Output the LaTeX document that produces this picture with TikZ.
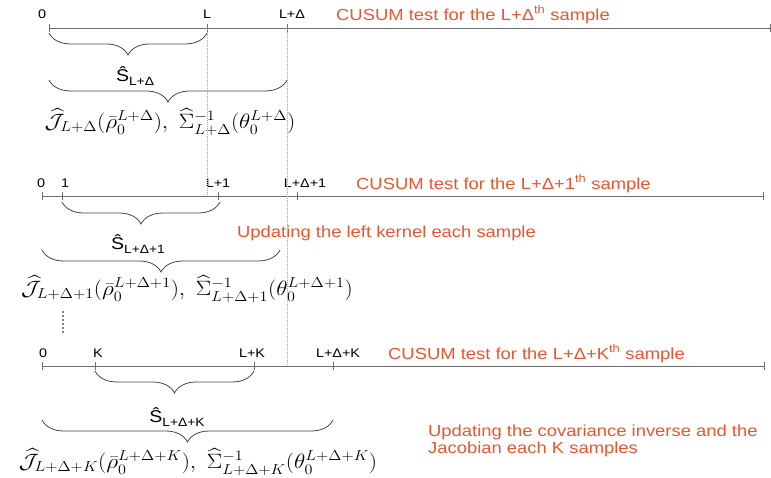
\documentclass[tikz,border=0pt]{standalone}
\usepackage{fontspec}
\usepackage{amsmath}
\usetikzlibrary{decorations.pathreplacing}
\newfontfamily\labfont[FakeStretch=1.15]{Liberation Sans}
\definecolor{redtxt}{RGB}{236,84,44}
\definecolor{axisgray}{RGB}{110,110,110}
\definecolor{bracegray}{RGB}{70,70,70}
\tikzset{
  axisline/.style={draw=axisgray, line width=0.9pt},
  tickmark/.style={draw=axisgray, line width=0.9pt},
  ticklabel/.style={inner sep=0pt, font=\labfont\fontsize{12.5}{14}\selectfont},
  redlabel/.style={inner sep=0pt, anchor=west, text=redtxt, font=\labfont\fontsize{16}{18}\selectfont},
  slabel/.style={inner sep=0pt, font=\labfont\fontsize{17}{19}\selectfont},
  formula/.style={inner sep=0pt, font=\fontsize{19.5}{22}\selectfont},
  bracedraw/.style={draw=bracegray, line width=0.8pt, decorate, decoration={brace, mirror, amplitude=22pt}},
  guideline/.style={draw=gray!70, line width=0.6pt, dash pattern=on 1pt off 1pt},
}
\newcommand{\Shat}[1]{Ŝ\raisebox{-0.45ex}{\fontsize{12}{13}\selectfont #1}}
\newcommand{\fstretch}[1]{\scalebox{1.12}[1]{#1}}
\begin{document}
\begin{tikzpicture}[x=1pt,y=-1pt]
\useasboundingbox (0,0) rectangle (771,478);
% ---------- line 1
\coordinate (a0) at (49,28);
\coordinate (aL) at (207,28);
\coordinate (aD) at (287,28);
\coordinate (aE) at (770,28);
\draw[axisline] (a0) -- (aE);
\foreach \p in {a0,aL,aD,aE} \draw[tickmark] ([yshift=-4pt]\p) -- ([yshift=4pt]\p);
\node[ticklabel] (ta0) at (42,14) {0};
\node[ticklabel] (taL) at (207,14) {L};
\node[ticklabel] (taD) at (292,14) {L+Δ};
\node[redlabel] (ra) at (336,14.5) {CUSUM test for the L+Δ\textsuperscript{th} sample};
\coordinate (b1s) at (49,33);
\coordinate (b1e) at (207,33);
\draw[bracedraw] (b1s) -- (b1e);
\node[slabel] (s1) at (135,76) {\Shat{L+Δ}};
\coordinate (b2s) at (49,80);
\coordinate (b2e) at (287,80);
\draw[bracedraw] (b2s) -- (b2e);
\node[formula] (f1) at (170,122) {\fstretch{$\widehat{\mathcal{J}}_{L+\Delta}(\bar{\rho}_0^{L+\Delta}),\ \widehat{\Sigma}^{-1}_{L+\Delta}(\theta_0^{L+\Delta})$}};
% ---------- line 2
\coordinate (c0) at (42,196);
\coordinate (c1) at (62,196);
\coordinate (cL) at (218,196);
\coordinate (cD) at (297,196);
\coordinate (cE) at (763,196);
\draw[axisline] (c0) -- (cE);
\foreach \p in {c0,c1,cL,cD,cE} \draw[tickmark] ([yshift=-4pt]\p) -- ([yshift=4pt]\p);
\node[ticklabel] (tc0) at (41,183) {0};
\node[ticklabel] (tc1) at (65,183) {1};
\node[ticklabel] (tcL) at (218,183) {L+1};
\node[ticklabel] (tcD) at (305,183) {L+Δ+1};
\node[redlabel] (rc) at (356,183.5) {CUSUM test for the L+Δ+1\textsuperscript{th} sample};
\node[redlabel] (rk) at (237,233) {Updating the left kernel each sample};
\coordinate (b3s) at (62,202);
\coordinate (b3e) at (220,202);
\draw[bracedraw] (b3s) -- (b3e);
\node[slabel] (s2) at (138,244) {\Shat{L+Δ+1}};
\coordinate (b4s) at (42,250);
\coordinate (b4e) at (280,250);
\draw[bracedraw] (b4s) -- (b4e);
\node[formula] (f2) at (187,289) {\fstretch{$\widehat{\mathcal{J}}_{L+\Delta+1}(\bar{\rho}_0^{L+\Delta+1}),\ \widehat{\Sigma}^{-1}_{L+\Delta+1}(\theta_0^{L+\Delta+1})$}};
% dots
\coordinate (d1) at (63,312);
\coordinate (d2) at (63,333);
\draw[black, line width=1.6pt, line cap=round, dash pattern=on 0pt off 4pt] (d1) -- (d2);
% ---------- line 3
\coordinate (e0) at (42,366);
\coordinate (eK) at (95,366);
\coordinate (eL) at (254,366);
\coordinate (eD) at (333,366);
\coordinate (eE) at (764,366);
\draw[axisline] (e0) -- (eE);
\foreach \p in {e0,eK,eL,eD,eE} \draw[tickmark] ([yshift=-4pt]\p) -- ([yshift=4pt]\p);
\node[ticklabel] (te0) at (43,353) {0};
\node[ticklabel] (teK) at (98,353) {K};
\node[ticklabel] (teL) at (252,353) {L+K};
\node[ticklabel] (teD) at (338,353) {L+Δ+K};
\node[redlabel] (re) at (388,353.5) {CUSUM test for the L+Δ+K\textsuperscript{th} sample};
\coordinate (b5s) at (95,371);
\coordinate (b5e) at (254,371);
\draw[bracedraw] (b5s) -- (b5e);
\node[slabel] (s3) at (177,417) {\Shat{L+Δ+K}};
\coordinate (b6s) at (42,420);
\coordinate (b6e) at (333,420);
\draw[bracedraw] (b6s) -- (b6e);
\node[formula] (f3) at (198,462) {\fstretch{$\widehat{\mathcal{J}}_{L+\Delta+K}(\bar{\rho}_0^{L+\Delta+K}),\ \widehat{\Sigma}^{-1}_{L+\Delta+K}(\theta_0^{L+\Delta+K})$}};
\node[redlabel, align=left] (rcov) at (428,441) {Updating the covariance inverse and the\\[-1.5pt]Jacobian each K samples};
% ---------- guide lines
\draw[guideline] (aL) -- (207,196);
\draw[guideline] (aD) -- (287,366);
\end{tikzpicture}
\end{document}
